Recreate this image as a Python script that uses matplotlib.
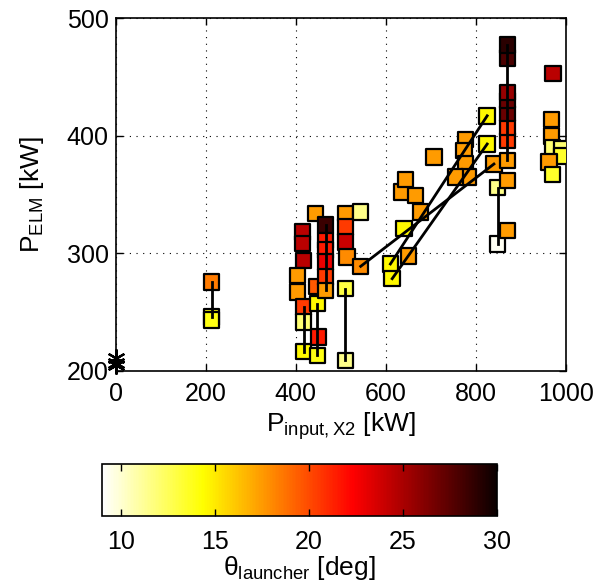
import matplotlib
matplotlib.use("Agg")
import matplotlib.pyplot as plt
import numpy as np

plt.rcParams["font.family"] = ["Liberation Sans", "DejaVu Sans"]
plt.rcParams["mathtext.fontset"] = "custom"
plt.rcParams["mathtext.rm"] = "Liberation Sans"
plt.rcParams["mathtext.it"] = "Liberation Sans:italic"

# scatter points: input power [kW], ELM power [kW], launcher angle [deg]
p_input = [213, 213, 213,
           415, 415, 417, 404, 404, 417, 417, 417,
           444, 447, 448, 450, 448,
           466, 466, 466, 466, 466, 466,
           510, 510, 510, 514, 510, 510, 544, 544,
           610, 614, 650, 640, 677, 636, 644, 666, 707,
           777, 773, 777, 784, 755,
           825, 825, 840, 848, 848,
           870, 870, 870, 870, 870, 870, 870, 870, 870, 870,
           971, 968, 968, 970, 990, 990, 962, 970]
p_elm = [275.6, 245.9, 243.5,
         318, 308.5, 294, 281, 267, 254.4, 241.6, 216.5,
         334, 272, 257.3, 229, 213.3,
         324, 311, 303, 292.5, 280, 268.6,
         334, 322.3, 309.6, 297, 270, 209, 335, 289,
         291, 278.5, 298, 321, 335, 352, 363, 349.3, 382,
         397, 387.5, 376, 365, 365,
         417, 393, 376, 356, 308,
         319.5, 362, 379, 396, 407, 419, 430, 437, 466, 477,
         453, 414, 400, 390, 389, 383, 377.6, 367]
theta = [18.5, 14, 14,
         24.5, 24.5, 24.5, 17.5, 17.5, 20.5, 12, 14.5,
         17.5, 19.5, 14.5, 21.5, 14,
         28.5, 21.5, 21.5, 23, 20.5, 17.5,
         17.5, 20.5, 24, 18, 13, 11.5, 11.5, 18,
         14.5, 14.5, 17.5, 14.5, 17.5, 17.5, 17.5, 17.5, 17.5,
         17.5, 17.5, 17.5, 17.5, 17.5,
         14.5, 14.5, 17.5, 11.5, 9.3,
         17.5, 17.5, 17.5, 20.5, 20.5, 27, 27, 25.5, 28, 29,
         24.5, 17.5, 17.5, 12, 12, 13.5, 17.5, 13.5]

# ohmic reference points (no ECRH)
ohmic_x = [0, 0, 0]
ohmic_y = [211, 207, 205]

# connected scans
scan_lines = [
    ([213, 213], [275.6, 245.9]),
    ([417, 417], [254.4, 216.5]),
    ([448, 448], [257.3, 213.3]),
    ([466, 466], [324, 268.6]),
    ([510, 510], [270, 209]),
    ([848, 848], [356, 308]),
    ([870, 870], [477, 379]),
    ([610, 825], [291, 417]),
    ([614, 825], [278.5, 393]),
    ([544, 840], [289, 376]),
]

fig = plt.figure(figsize=(5.97, 5.87), dpi=100)
ax = fig.add_axes([0.194, 0.368, 0.754, 0.601])

sc = ax.scatter(p_input, p_elm, c=theta, cmap="hot_r", vmin=9, vmax=30,
                marker="s", s=125, edgecolors="black", linewidths=1.6, zorder=3)
for lx, ly in scan_lines:
    ax.plot(lx, ly, color="black", lw=2, zorder=4)
ax.plot(ohmic_x, ohmic_y, linestyle="none", marker=(6, 2, 0), ms=13,
        mec="black", mew=1.6, zorder=5, clip_on=False)

ax.set_xlim(0, 1000)
ax.set_ylim(200, 500)
ax.set_xticks([0, 200, 400, 600, 800, 1000])
ax.set_yticks([200, 300, 400, 500])
ax.grid(True, linestyle=(0, (1, 5)), color="black", lw=0.8)
ax.set_axisbelow(True)
ax.tick_params(direction="in", top=True, right=True, labelsize=18, width=1, length=5)
ax.tick_params(axis="x", pad=8)
ax.tick_params(axis="y", pad=5)
for s in ax.spines.values():
    s.set_linewidth(1.2)
ax.set_xlabel("P$_{\\mathrm{input,X2}}$ [kW]", fontsize=19, labelpad=3)
ax.set_ylabel("P$_{\\mathrm{ELM}}$ [kW]", fontsize=19, labelpad=15)

cax = fig.add_axes([0.171, 0.1215, 0.6615, 0.0876])
cb = fig.colorbar(sc, cax=cax, orientation="horizontal")
cb.set_ticks([10, 15, 20, 25, 30])
cax.tick_params(direction="in", top=True, bottom=True, labelsize=18, width=1, length=5, pad=10)
cb.outline.set_linewidth(1.2)
cb.set_label("θ$_{\\mathrm{launcher}}$ [deg]", fontsize=19, labelpad=0)

fig.savefig("out.png", dpi=100)
